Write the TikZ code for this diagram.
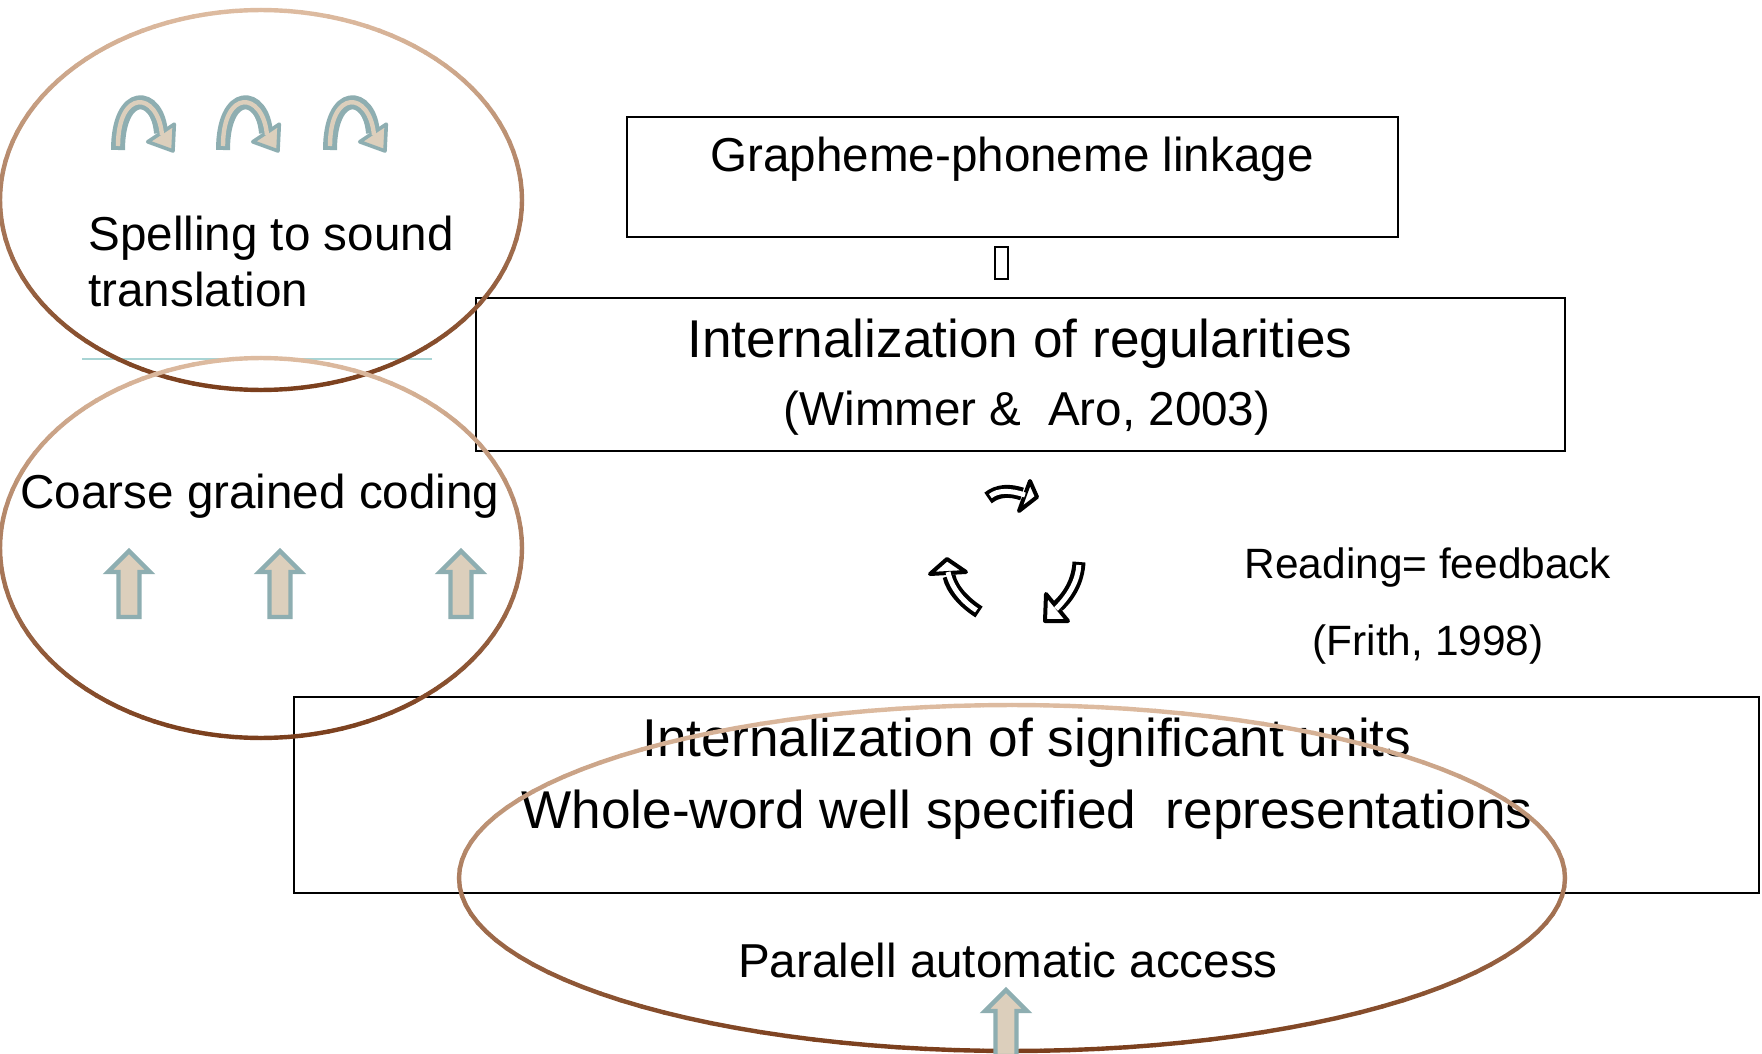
\documentclass[tikz,border=0pt]{standalone}
\usepackage{fontspec}
\setmainfont{Liberation Sans}
\definecolor{elltan}{HTML}{DDBBA0}
\definecolor{ellbrown}{HTML}{7A3E1C}
\definecolor{arrteal}{HTML}{8EAEB1}
\definecolor{arrtan}{HTML}{DCCFBC}
\definecolor{rulecol}{HTML}{A8D4D4}
\newcommand\gradell[4]{%
  \foreach \a in {0,3,...,357}{%
    \pgfmathtruncatemacro\pct{50+50*sin(\a+1.5)}%
    \draw[ellline, draw=ellbrown!\pct!elltan] ({#1+#3*cos(\a)},{#2+#4*sin(\a)}) -- ({#1+#3*cos(\a+3)},{#2+#4*sin(\a+3)});
  }}
\tikzset{
  box/.style={draw=black, line width=1pt, inner sep=0pt},
  lbl/.style={anchor=base, inner sep=0pt, font=\fontsize{23.8}{28}\selectfont},
  lblbig/.style={anchor=base, inner sep=0pt, font=\fontsize{26.6}{32}\selectfont},
  lblsmall/.style={anchor=base, inner sep=0pt, font=\fontsize{21.2}{26}\selectfont},
  ellline/.style={line width=2.2pt, line cap=round},
  cycout/.style={draw=black, line width=6.5pt},
  cycin/.style={draw=white, line width=2.5pt},
  cychead/.style={fill=white, draw=black, line width=2pt, line join=round},
  uparr/.pic={\draw[fill=arrtan, draw=arrteal, line width=2.2pt, line join=miter]
     (0,0) -- (21,21) -- (10.5,21) -- (10.5,66) -- (-10.5,66) -- (-10.5,21) -- (-21,21) -- cycle;},
  archarr/.pic={
     \draw[arrteal, line width=7pt] (0,2) .. controls (0,-60) and (40,-57) .. (43,-15);
     \draw[fill=arrtan, draw=arrteal, line width=1.8pt, line join=round] (55,3) -- (56.3,-23.8) -- (29.7,-6.2) -- cycle;
     \draw[arrtan, line width=2.2pt, shorten <=2pt] (0,2) .. controls (0,-60) and (40,-57) .. (44,-13);}
}
\begin{document}
\begin{tikzpicture}[x=0.5pt,y=-0.5pt]
\path[use as bounding box] (0,0) rectangle (1762,1054);
% boxes
\node[box, minimum width=385.5pt, minimum height=60pt] (b1) at (1012.5,177) {};
\node[box, minimum width=544.5pt, minimum height=76.5pt] (b2) at (1020.5,374.5) {};
\node[box, minimum width=732.5pt, minimum height=98pt] (b3) at (1026.5,795) {};
\node[draw=black, line width=0.6pt, inner sep=0pt, minimum width=6.5pt, minimum height=16pt] (tofu) at (1001.5,263) {};
% texts
\node[lbl] (t1) at (1012,171) {Grapheme-phoneme linkage};
\node[lblbig] (t2) at (1020,357) {Internalization of regularities};
\node[lbl] (t3) at (1027,425) {(Wimmer \&\ \ Aro, 2003)};
\node[lblbig] (t4) at (1027,756) {Internalization of significant units};
\node[lblbig] (t5) at (1027,828) {Whole-word well specified\ \ representations};
\node[lbl] (t6) at (1008,977) {Paralell automatic access};
\node[lblsmall] (t7) at (1428,578) {Reading= feedback};
\node[lblsmall] (t8) at (1428,655) {(Frith, 1998)};
\node[lbl, anchor=base west, align=left] (t9) at (88,306) {Spelling to sound\\translation};
\node[lbl] (t10) at (260,508) {Coarse grained coding};
% thin rule
\coordinate (r1) at (82,359);
\coordinate (r2) at (432,359);
\draw[rulecol, line width=1pt] (r1) -- (r2);
% ellipses
\gradell{261}{200}{261}{190}
\gradell{261}{548}{261}{190}
\gradell{1012}{878}{553}{173}
% arch arrows
\pic at (118,148) {archarr};
\pic at (223,148) {archarr};
\pic at (330,148) {archarr};
% up arrows
\pic at (129,551) {uparr};
\pic at (280,551) {uparr};
\pic at (461,551) {uparr};
\pic at (1006,990) {uparr};
% cycle arrows
\draw[cycout] (988,498) .. controls (998,490) and (1010,490) .. (1022,494);
\draw[cychead] (1037,497) -- (1030,481) -- (1019,511) -- cycle;
\draw[cycin, shorten <=1.5pt] (988,498) .. controls (998,490) and (1010,490) .. (1025,495);
\draw[cycout] (979,612) .. controls (965,603) and (952,590) .. (949,576);
\draw[cychead] (947,559) -- (930,574) -- (966,572) -- cycle;
\draw[cycin, shorten <=1.5pt] (979,612) .. controls (965,603) and (952,590) .. (948,572);
\draw[cycout] (1079,562) .. controls (1078,580) and (1070,595) .. (1058,606);
\draw[cychead] (1045,621) -- (1046,594) -- (1068,621) -- cycle;
\draw[cycin, shorten <=1.5pt] (1079,562) .. controls (1078,580) and (1070,595) .. (1056,609);
\end{tikzpicture}
\end{document}
